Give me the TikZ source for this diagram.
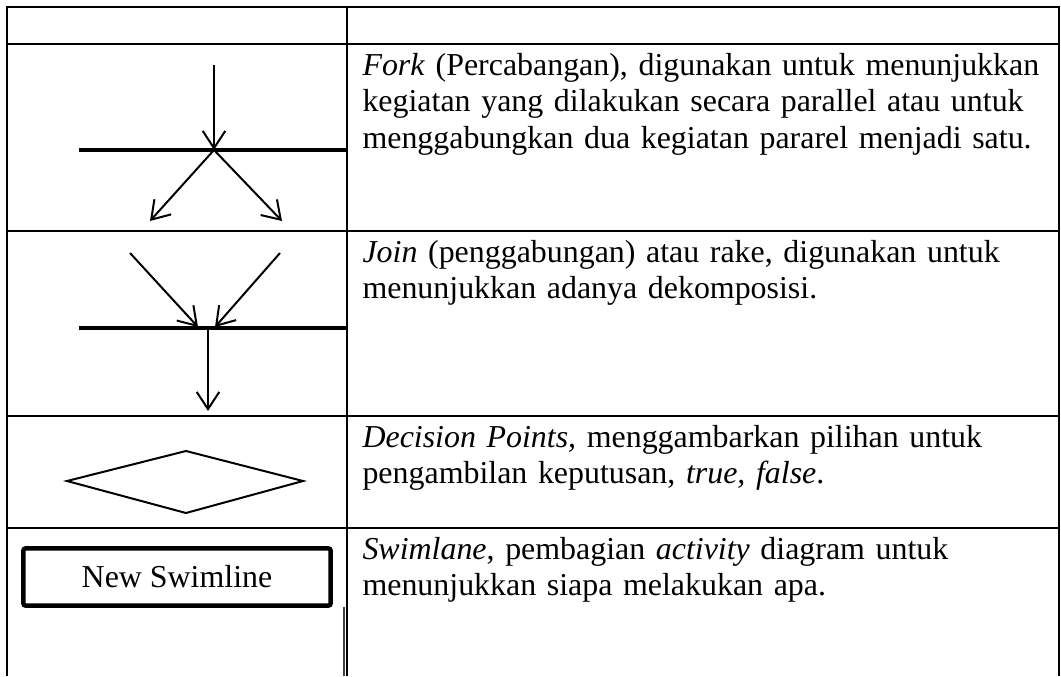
\documentclass[tikz,border=0pt]{standalone}
\usepackage{fontspec}
\setmainfont{Liberation Serif}
\usetikzlibrary{arrows.meta,positioning}

\begin{document}
\begin{tikzpicture}[x=0.376pt,y=-0.376pt,
  font=\fontsize{12}{13.8}\selectfont,
  rule/.style={draw=black,line width=0.75pt},
  bar/.style={draw=black,line width=1.5pt},
  ar/.style={-{Straight Barb[length=6.5pt,width=8.5pt]},line width=0.75pt},
  desc/.style={anchor=base west,align=left,inner sep=0pt,text width=265pt},
  lane/.style={draw=black,line width=1.7pt,rounded corners=1pt,inner sep=0pt,
               minimum width=115.6pt,minimum height=21.6pt}]
\useasboundingbox (0,0) rectangle (1061,676);
% table rules
\draw[rule] (7,676) -- (7,7) -| (1059,676);
\foreach \y in {44,231,416,528}
  \draw[rule] (7,\y) -- (1059,\y);
\draw[rule] (347,7) -- (347,676);
\draw[black!75,line width=0.9pt] (344,607) -- (344,676);
% fork
\coordinate (forktop) at (214,65);
\coordinate (forkmid) at (214,150);
\coordinate (forkl) at (150,221);
\coordinate (forkr) at (282,221);
\draw[bar] (79,150) -- (348,150);
\draw[ar] (forktop) -- (forkmid);
\foreach \e in {forkl,forkr}
  \draw[ar] (forkmid) -- (\e);
% join
\coordinate (joinl) at (130,253);
\coordinate (joinr) at (280,253);
\coordinate (joinl') at (198,327);
\coordinate (joinr') at (215,327);
\coordinate (joinmid) at (208,329);
\coordinate (joinend) at (208,411);
\draw[bar] (79,328) -- (348,328);
\draw[ar] (joinl) -- (joinl');
\draw[ar] (joinr) -- (joinr');
\draw[ar] (joinmid) -- (joinend);
% decision
\draw[line width=0.75pt] (67,481) -- (186,451) -- (303,481) -- (186,513) -- cycle;
% swimlane
\node[lane] (swim) at (177,577) {New Swimline};
% texts
\node[desc] (tfork) at (362,75)
  {\textit{Fork} (Percabangan), digunakan untuk menunjukkan\\
   kegiatan yang dilakukan secara parallel atau untuk\\
   menggabungkan dua kegiatan pararel menjadi satu.};
\node[desc] (tjoin) at (362,262)
  {\textit{Join} (penggabungan) atau rake, digunakan untuk\\
   menunjukkan adanya dekomposisi.};
\node[desc] (tdec) at (362,447)
  {\textit{Decision Points,} menggambarkan pilihan untuk\\
   pengambilan keputusan, \textit{true, false}.};
\node[desc] (tswim) at (362,559)
  {\textit{Swimlane}, pembagian \textit{activity} diagram untuk\\
   menunjukkan siapa melakukan apa.};
\end{tikzpicture}
\end{document}
